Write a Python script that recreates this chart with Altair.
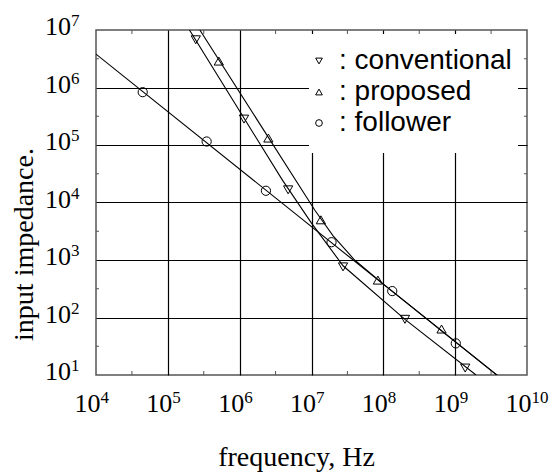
import altair as alt
import pandas as pd

W, H = 431, 345

# ---------------- data ----------------
series_names = ["conventional", "proposed", "follower"]
series_shapes = ["triangle-down", "triangle-up", "circle"]

# measured points (markers)
conv_freq = [2.45e5, 1.15e6, 4.73e6, 2.75e7, 2.0e8, 1.38e9]
conv_imp = [6.76e6, 2.82e5, 1.66e4, 759, 93, 13.2]
prop_freq = [5.13e5, 2.51e6, 1.35e7, 8.4e7, 6.46e8]
prop_imp = [2.88e6, 1.32e5, 5.0e3, 447, 63]
foll_freq = [4.47e4, 3.47e5, 2.32e6, 1.9e7, 1.33e8, 1.02e9]
foll_imp = [8.3e5, 1.15e5, 1.6e4, 2.04e3, 288, 35.5]

# curves (vertices)
conv_line_freq = [2.0e5, 3.98e6, 1.0e7, 2.75e7, 2.0e8, 1.95e9]
conv_line_imp = [1.0e7, 2.4e4, 4.37e3, 794, 93, 10]
prop_line_freq = [2.79e5, 1.12e7, 2.0e7, 3.98e7, 1.0e8, 3.98e9]
prop_line_imp = [1.0e7, 7.24e3, 2.63e3, 1.0e3, 380, 9.55]
foll_line_freq = [1.0e4, 3.98e9]
foll_line_imp = [3.8e6, 9.55]

# axes
x_domain = [1e4, 1e10]
y_domain = [1e1, 1e7]
x_grid = [1e5, 1e6, 1e7, 1e8, 1e9]
y_grid = [1e2, 1e3, 1e4, 1e5, 1e6]
x_minor = [3.162e4, 3.162e5, 3.162e6, 3.162e7, 3.162e8, 3.162e9]
y_minor = [31.62, 316.2, 3162, 31620, 316200, 3162000]
x_label_exp = ["4", "5", "6", "7", "8", "9", "10"]
y_label_exp = ["1", "2", "3", "4", "5", "6", "7"]

# ---------------- tables ----------------
pts = pd.concat([
    pd.DataFrame({"series": series_names[0], "f": conv_freq, "z": conv_imp}),
    pd.DataFrame({"series": series_names[1], "f": prop_freq, "z": prop_imp}),
    pd.DataFrame({"series": series_names[2], "f": foll_freq, "z": foll_imp}),
], ignore_index=True)

lines = pd.concat([
    pd.DataFrame({"series": series_names[0], "f": conv_line_freq, "z": conv_line_imp, "o": range(len(conv_line_freq))}),
    pd.DataFrame({"series": series_names[1], "f": prop_line_freq, "z": prop_line_imp, "o": range(len(prop_line_freq))}),
    pd.DataFrame({"series": series_names[2], "f": foll_line_freq, "z": foll_line_imp, "o": range(len(foll_line_freq))}),
], ignore_index=True)

xlab = pd.DataFrame({"e": x_label_exp, "v": [10.0 ** int(e) for e in x_label_exp]})
ylab = pd.DataFrame({"e": y_label_exp, "v": [10.0 ** int(e) for e in y_label_exp]})
xmin_df = pd.DataFrame({"v": x_minor})
ymin_df = pd.DataFrame({"v": y_minor})
box_df = pd.DataFrame({"a": [0]})

xs = alt.Scale(type="log", domain=x_domain, nice=False)
ys = alt.Scale(type="log", domain=y_domain, nice=False)

SERIF = "Liberation Serif, Times New Roman, Times, serif"
SANS = "Liberation Sans, Arial, Helvetica, sans-serif"
FRAME = "#555555"

x_axis = alt.Axis(values=x_grid, grid=True, gridColor="black", gridWidth=1.2, gridOpacity=1,
                  ticks=False, labels=False, domain=False,
                  title="frequency, Hz", titleFont=SERIF, titleFontSize=28,
                  titleFontWeight="normal", titleColor="black",
                  titleX=200, titleY=90, titleAlign="center", titleBaseline="alphabetic")
y_axis = alt.Axis(values=y_grid, grid=True, gridColor="black", gridWidth=1.2, gridOpacity=1,
                  ticks=False, labels=False, domain=False,
                  title="input impedance.", titleFont=SERIF, titleFontSize=28,
                  titleFontWeight="normal", titleColor="black", titleAngle=270,
                  titleX=-64, titleY=214, titleAlign="center", titleBaseline="alphabetic")

X = lambda: alt.X("f:Q", scale=xs, axis=x_axis)
Y = lambda: alt.Y("z:Q", scale=ys, axis=y_axis)

line_layer = alt.Chart(lines).mark_line(color="black", strokeWidth=1.1, clip=True).encode(
    x=X(), y=Y(), detail="series:N", order="o:Q",
)

box = alt.Chart(box_df).mark_rect(fill="white").encode(
    x=alt.value(213), x2=alt.value(422), y=alt.value(4), y2=alt.value(123)
)

point_layer = alt.Chart(pts).mark_point(filled=False, color="black", size=85, strokeWidth=1, opacity=1).encode(
    x=X(), y=Y(),
    shape=alt.Shape("series:N",
                    scale=alt.Scale(domain=series_names, range=series_shapes),
                    legend=alt.Legend(orient="none", legendX=209, legendY=17, title=None,
                                      padding=0, labelExpr="': ' + datum.label",
                                      labelFont=SANS, labelFontSize=28, labelColor="black",
                                      labelOffset=6, labelLimit=400, rowPadding=3,
                                      symbolSize=45, symbolStrokeColor="black",
                                      symbolFillColor="transparent", symbolStrokeWidth=1)),
)

tick_b = alt.Chart(xmin_df).mark_rule(color=FRAME, strokeWidth=1).encode(
    x=alt.X("v:Q", scale=xs, axis=x_axis), y=alt.value(H), y2=alt.value(H - 4))
tick_t = alt.Chart(xmin_df).mark_rule(color=FRAME, strokeWidth=1).encode(
    x=alt.X("v:Q", scale=xs, axis=x_axis), y=alt.value(0), y2=alt.value(4))
tick_l = alt.Chart(ymin_df).mark_rule(color=FRAME, strokeWidth=1).encode(
    y=alt.Y("v:Q", scale=ys, axis=y_axis), x=alt.value(0), x2=alt.value(3))
tick_r = alt.Chart(ymin_df).mark_rule(color=FRAME, strokeWidth=1).encode(
    y=alt.Y("v:Q", scale=ys, axis=y_axis), x=alt.value(W - 3), x2=alt.value(W))

xl10 = alt.Chart(xlab).mark_text(text="10", align="right", dx=4.5, baseline="alphabetic",
                                 font=SERIF, fontSize=26, color="black").encode(
    x=alt.X("v:Q", scale=xs, axis=x_axis), y=alt.value(H + 37))
xlexp = alt.Chart(xlab).mark_text(align="left", dx=4.5, baseline="alphabetic",
                                  font=SERIF, fontSize=17, color="black").encode(
    x=alt.X("v:Q", scale=xs, axis=x_axis), y=alt.value(H + 28), text="e:N")
yl10 = alt.Chart(ylab).mark_text(text="10", align="right", dy=5, baseline="alphabetic",
                                 font=SERIF, fontSize=26, color="black").encode(
    y=alt.Y("v:Q", scale=ys, axis=y_axis), x=alt.value(-25))
ylexp = alt.Chart(ylab).mark_text(align="left", dy=-4, baseline="alphabetic",
                                  font=SERIF, fontSize=17, color="black").encode(
    y=alt.Y("v:Q", scale=ys, axis=y_axis), x=alt.value(-25), text="e:N")

chart = alt.layer(
    line_layer, box, tick_b, tick_t, tick_l, tick_r, point_layer,
    xl10, xlexp, yl10, ylexp,
).properties(
    width=W, height=H,
    autosize=alt.AutoSizeParams(type="none"),
    padding={"left": 96, "top": 30, "right": 557 - 96 - W, "bottom": 474 - 30 - H},
    background="white",
).configure_view(stroke=FRAME, strokeWidth=1.5)

chart.save("out.html", embed_options={"renderer": "svg", "actions": False})
